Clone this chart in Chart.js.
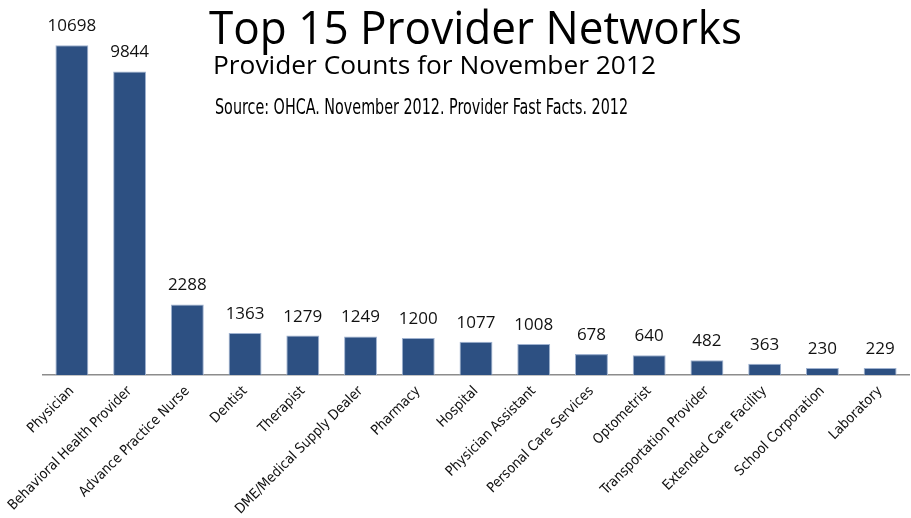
<!DOCTYPE html>
<html>
<head>
<meta charset="utf-8">
<script src="https://cdn.jsdelivr.net/npm/chart.js@4.4.1/dist/chart.umd.min.js"></script>
<style>
  html, body { margin: 0; padding: 0; background: #fff; }
</style>
</head>
<body>
<canvas id="providerChart" width="911" height="518"></canvas>
<script>
// Provider counts, November 2012
const providerTypes = [
    'Physician', 'Behavioral Health Provider', 'Advance Practice Nurse', 'Dentist',
    'Therapist', 'DME/Medical Supply Dealer', 'Pharmacy', 'Hospital',
    'Physician Assistant', 'Personal Care Services', 'Optometrist',
    'Transportation Provider', 'Extended Care Facility', 'School Corporation', 'Laboratory'
];
const providerCounts = [10698, 9844, 2288, 1363, 1279, 1249, 1200, 1077, 1008, 678, 640, 482, 363, 230, 229];

const titleText = 'Top 15 Provider Networks';
const subtitleText = 'Provider Counts for November 2012';
const sourceText = 'Source: OHCA. November 2012. Provider Fast Facts. 2012';

const condensedFont = '"DejaVu Sans Condensed", "Liberation Sans Narrow", "Open Sans", sans-serif';

// Draws a line of text squeezed/stretched to a given width
function fitText(ctx, text, x, y, size, family, width) {
    ctx.save();
    ctx.font = size + 'px ' + family;
    const w = ctx.measureText(text).width;
    ctx.translate(x, y);
    ctx.scale(width / w, 1);
    ctx.fillText(text, 0, 0);
    ctx.restore();
}

// Headline block sitting over the plot
const headingPlugin = {
    id: 'heading',
    afterDraw(chart) {
        const ctx = chart.ctx;
        ctx.save();
        ctx.fillStyle = '#000';
        ctx.textBaseline = 'alphabetic';
        ctx.textAlign = 'left';
        fitText(ctx, titleText, 209, 44, 46, '"Open Sans", sans-serif', 533);
        fitText(ctx, subtitleText, 213, 74, 26, '"Open Sans", sans-serif', 443);
        fitText(ctx, sourceText, 215, 114, 22, condensedFont, 413);
        ctx.restore();
    }
};

// Count printed above each bar
const valueLabels = {
    id: 'valueLabels',
    afterDatasetsDraw(chart) {
        const ctx = chart.ctx;
        const meta = chart.getDatasetMeta(0);
        ctx.save();
        ctx.font = '17px "Open Sans", sans-serif';
        ctx.fillStyle = '#111';
        ctx.textAlign = 'center';
        ctx.textBaseline = 'alphabetic';
        meta.data.forEach((bar, i) => {
            ctx.fillText(String(providerCounts[i]), bar.x, bar.y - 14);
        });
        ctx.restore();
    }
};

new Chart(document.getElementById('providerChart'), {
    type: 'bar',
    data: {
        labels: providerTypes,
        datasets: [{
            data: providerCounts,
            backgroundColor: '#2D5082',
            borderColor: '#9fb2d0',
            borderWidth: 1,
            barPercentage: 0.57,
            categoryPercentage: 1
        }]
    },
    options: {
        responsive: false,
        animation: false,
        layout: { padding: { left: 43, right: 2, top: 5, bottom: 0 } },
        plugins: {
            legend: { display: false },
            tooltip: { enabled: false }
        },
        scales: {
            x: {
                grid: { display: false, drawTicks: false },
                border: { display: true, color: '#8c8c8c', width: 1.5 },
                ticks: {
                    autoSkip: false,
                    minRotation: 45,
                    maxRotation: 45,
                    padding: 8,
                    color: '#111',
                    font: { family: condensedFont, size: 14 }
                },
                afterFit: (scale) => { scale.height = 143; }
            },
            y: {
                display: false,
                min: 0,
                max: 12000
            }
        }
    },
    plugins: [valueLabels, headingPlugin]
});
</script>
</body>
</html>
